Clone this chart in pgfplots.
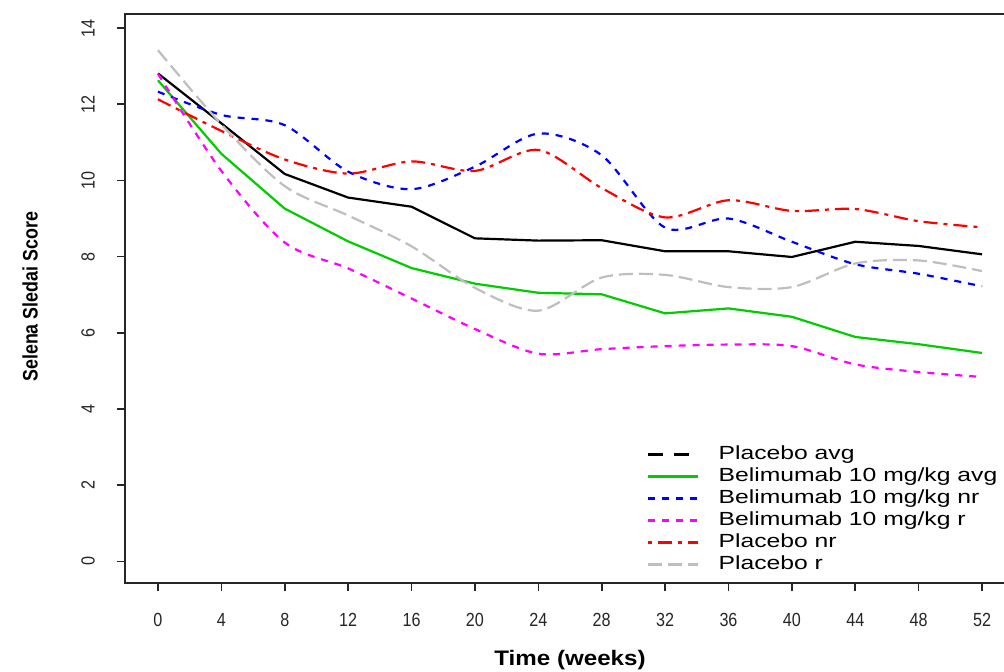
\documentclass[border=0pt]{standalone}
\usepackage{pgfplots}
\pgfplotsset{compat=1.18}
\usepackage{pgfplotstable}
\usepackage{fontspec}
\setmainfont{Liberation Sans}
\newfontfamily\tickfont[FakeStretch=0.85]{Liberation Sans}
\newfontfamily\legfont[FakeStretch=1.3]{Liberation Sans}
\newfontfamily\ylabfont[FakeStretch=0.85]{Liberation Sans}
\newfontfamily\xlabfont[FakeStretch=1.15]{Liberation Sans}

\definecolor{rgreen}{RGB}{0,205,0}
\definecolor{rblue}{RGB}{0,0,255}
\definecolor{rmagenta}{RGB}{255,0,255}
\definecolor{rred}{RGB}{255,0,0}
\definecolor{rgray}{RGB}{190,190,190}

% mean SELENA-SLEDAI score by visit week
\pgfplotstableread{
week  pavg   bavg   bnr    br     pnr    pr
0     12.81  12.63  12.33  12.80  12.13  13.42
4     11.50  10.70  11.72  10.25  11.30  11.47
8     10.17   9.26  11.45   8.37  10.55   9.85
12     9.55   8.40  10.23   7.69  10.18   9.08
16     9.31   7.70   9.77   6.90  10.50   8.27
20     8.48   7.29  10.36   6.10  10.25   7.18
24     8.42   7.05  11.23   5.45  10.80   6.58
28     8.43   7.01  10.66   5.57   9.80   7.45
32     8.14   6.51   8.76   5.65   9.03   7.52
36     8.14   6.64   9.00   5.69   9.48   7.20
40     7.99   6.42   8.39   5.65   9.20   7.20
44     8.39   5.89   7.80   5.17   9.25   7.82
48     8.28   5.70   7.55   4.97   8.93   7.90
52     8.06   5.47   7.22   4.84   8.77   7.62
}\sledai

\begin{document}
\begin{tikzpicture}
\begin{axis}[
  at={(0,0)}, anchor=south west,
  scale only axis, width=445pt, height=284.5pt,
  xmin=-2.08, xmax=54.08, ymin=-0.57, ymax=14.37,
  xtick={0,4,...,52}, ytick={0,2,...,14},
  tick pos=left, tick align=outside, major tick length=4pt,
  axis line style={black!85, line width=0.8pt},
  major tick style={black!85, line width=0.8pt},
  /pgf/number format/assume math mode=true,
  tick label style={font=\tickfont\fontsize{9.5}{11}\selectfont, text=black!85},
  xticklabel style={anchor=center, yshift=-14.5pt},
  yticklabel style={anchor=center, xshift=-14.5pt, rotate=90},
  xlabel={Time (weeks)},
  ylabel={Selena Sledai Score},
  every axis x label/.style={at={(axis description cs:0.5,-0.1353)}, anchor=center,
    font=\xlabfont\bfseries\fontsize{10.5}{12}\selectfont},
  every axis y label/.style={at={(axis description cs:-0.1067,0.503)}, anchor=center, rotate=90,
    font=\ylabfont\bfseries\fontsize{10.5}{12}\selectfont},
  legend image code/.code={\draw[#1] (0pt,0pt) -- (25pt,0pt);},
  legend cell align=left,
  legend style={draw=none, fill=none, at={(0.5865,0.2425)}, anchor=north west,
    font=\legfont\fontsize{9.5}{11}\selectfont, inner sep=0pt, row sep=2pt,
    nodes={inner sep=0pt, text height=7pt, text depth=2pt},
    /tikz/every odd column/.append style={column sep=9.5pt}},
]
\addplot[forget plot, black, line width=1.1pt] table[x=week, y=pavg] {\sledai};
\addplot[forget plot, rgreen, line width=1.1pt] table[x=week, y=bavg] {\sledai};
\addplot[forget plot, rblue, line width=1.1pt, dash pattern=on 3.5pt off 3.5pt, smooth, tension=0.5] table[x=week, y=bnr] {\sledai};
\addplot[forget plot, rmagenta, line width=1.1pt, dash pattern=on 3.5pt off 3.5pt, smooth, tension=0.5] table[x=week, y=br] {\sledai};
\addplot[forget plot, rred, line width=1.1pt, dash pattern=on 7pt off 3pt on 2pt off 3pt, smooth, tension=0.5] table[x=week, y=pnr] {\sledai};
\addplot[forget plot, rgray, line width=1.1pt, dash pattern=on 7pt off 3pt, smooth, tension=0.5] table[x=week, y=pr] {\sledai};

\addlegendimage{black, line width=1.1pt, dash pattern=on 7.5pt off 5.5pt}
\addlegendentry{Placebo avg}
\addlegendimage{rgreen, line width=1.1pt}
\addlegendentry{Belimumab 10 mg/kg avg}
\addlegendimage{rblue, line width=1.1pt, dash pattern=on 3.5pt off 3.5pt}
\addlegendentry{Belimumab 10 mg/kg nr}
\addlegendimage{rmagenta, line width=1.1pt, dash pattern=on 3.5pt off 3.5pt}
\addlegendentry{Belimumab 10 mg/kg r}
\addlegendimage{rred, line width=1.1pt, dash pattern=on 2pt off 3pt on 7pt off 3pt}
\addlegendentry{Placebo nr}
\addlegendimage{rgray, line width=1.1pt, dash pattern=on 7pt off 3pt}
\addlegendentry{Placebo r}
\end{axis}
\pgfresetboundingbox
\useasboundingbox (-62.5pt,-44pt) rectangle (439.5pt,291.5pt);
\end{tikzpicture}
\end{document}
